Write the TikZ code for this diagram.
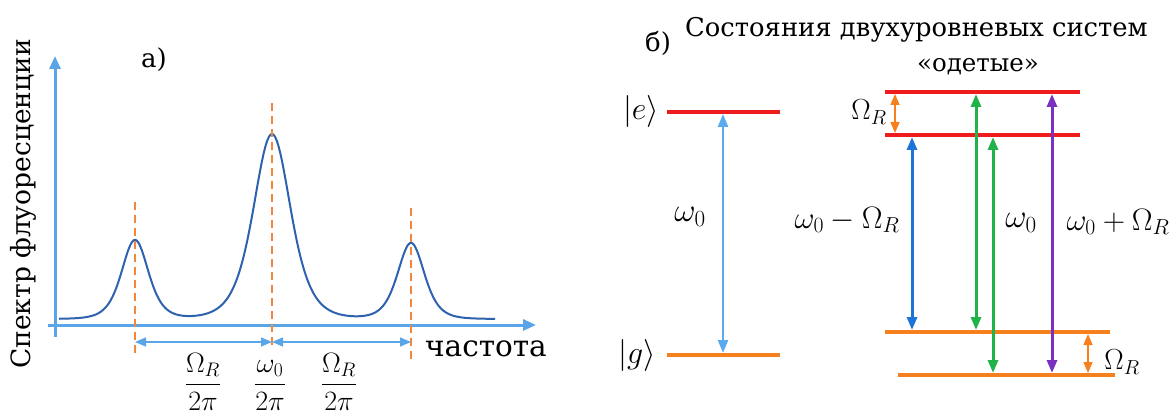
\documentclass[tikz,border=0pt]{standalone}
\usepackage{fix-cm}
\usepackage[no-math]{fontspec}
\setmainfont{DejaVu Serif}
\usetikzlibrary{arrows.meta}
\definecolor{axisblue}{HTML}{5AA5E8}
\definecolor{curveblue}{HTML}{2E62AE}
\definecolor{dashorange}{HTML}{F2863A}
\definecolor{lvlred}{HTML}{EE1C1C}
\definecolor{lvlorange}{HTML}{F7801E}
\definecolor{arrlight}{HTML}{5AAAEE}
\definecolor{arrdark}{HTML}{1B74D6}
\definecolor{arrgreen}{HTML}{22B24A}
\definecolor{arrpurple}{HTML}{7A30C0}
\tikzset{
  txt/.style={inner sep=0pt, font=\fontsize{#1}{#1}\selectfont},
  axisline/.style={axisblue, line width=3pt, -{Triangle[length=13pt,width=11pt]}},
  curveline/.style={curveblue, line width=2pt},
  dashline/.style={dashorange, line width=2pt, dash pattern=on 8pt off 5pt},
  spanarrow/.style={axisblue, line width=1.5pt, {Triangle[length=11pt,width=9pt]}-{Triangle[length=11pt,width=9pt]}},
  level/.style={line width=3.5pt},
  trans/.style={line width=3pt, {Triangle[length=13pt,width=10pt]}-{Triangle[length=13pt,width=10pt]}},
  small/.style={lvlorange, line width=1.5pt, {Triangle[length=11pt,width=9pt]}-{Triangle[length=11pt,width=9pt]}}
}
\begin{document}
\begin{tikzpicture}[x=1pt,y=-1pt]
\useasboundingbox (0,0) rectangle (1174,419);
% ---------- panel a ----------
\coordinate (yB) at (55,337);
\coordinate (yT) at (55,56);
\coordinate (xL) at (48,325);
\coordinate (xR) at (536,325);
\draw[axisline] (yB) -- (yT);
\draw[axisline] (xL) -- (xR);
\draw[curveline] plot[domain=59:495, samples=400, smooth] (\x, {325 - (6 + 79*(1/(1+((\x-135)/31)^2))^3 + 185*(1/(1+((\x-272)/43)^2))^3 + 76*(1/(1+((\x-411)/31)^2))^3)});
\coordinate (d1t) at (135,202); \coordinate (d1b) at (135,354);
\coordinate (d2t) at (272,103); \coordinate (d2b) at (272,345);
\coordinate (d3t) at (411,208); \coordinate (d3b) at (411,360);
\draw[dashline] (d1t) -- (d1b);
\draw[dashline] (d2t) -- (d2b);
\draw[dashline] (d3t) -- (d3b);
\coordinate (s1) at (135,342); \coordinate (s2) at (272,342); \coordinate (s3) at (411,342);
\draw[spanarrow] (s1) -- (s2);
\draw[spanarrow] (s2) -- (s3);
\node[txt=26] (la) at (154,60) {а)};
\node[txt=26.5, rotate=90] (ylab) at (23,204) {Спектр флуоресценции};
\node[txt=29.5, anchor=base west] (xlab) at (425,356) {частота};
\node[txt=28, anchor=base] (f1) at (203,391) {$\displaystyle\frac{\Omega_R}{2\pi}$};
\node[txt=28, anchor=base] (f2) at (270,391) {$\displaystyle\frac{\omega_0}{2\pi}$};
\node[txt=28, anchor=base] (f3) at (339,391) {$\displaystyle\frac{\Omega_R}{2\pi}$};
% ---------- panel b ----------
\node[txt=26] (lb) at (658,43) {б)};
\node[txt=25.8, anchor=base west] (title) at (685,37) {Состояния двухуровневых систем};
\node[txt=24.5, anchor=base] (dressed) at (978,72) {«одетые»};
% bare levels
\coordinate (eL) at (667,112); \coordinate (eR) at (780,112);
\coordinate (gL) at (667,355); \coordinate (gR) at (780,355);
\draw[level, lvlred] (eL) -- (eR);
\draw[level, lvlorange] (gL) -- (gR);
\node[txt=32] (ket e) at (641,112) {$|e\rangle$};
\node[txt=32] (ket g) at (637,355) {$|g\rangle$};
\coordinate (a0t) at (723,114); \coordinate (a0b) at (723,353);
\draw[trans, arrlight, line width=2.5pt] (a0t) -- (a0b);
\node[txt=33] (w0a) at (690,217) {$\omega_0$};
% dressed levels
\coordinate (e1L) at (885,92);  \coordinate (e1R) at (1080,92);
\coordinate (e2L) at (885,135); \coordinate (e2R) at (1080,135);
\coordinate (g1L) at (885,332); \coordinate (g1R) at (1110,332);
\coordinate (g2L) at (898,375); \coordinate (g2R) at (1115,375);
\draw[level, lvlred] (e1L) -- (e1R);
\draw[level, lvlred] (e2L) -- (e2R);
\draw[level, lvlorange] (g1L) -- (g1R);
\draw[level, lvlorange] (g2L) -- (g2R);
% transitions
\coordinate (oTt) at (895,94);   \coordinate (oTb) at (895,133);
\draw[small] (oTt) -- (oTb);
\coordinate (bt) at (912,137);   \coordinate (bb) at (912,330);
\draw[trans, arrdark] (bt) -- (bb);
\coordinate (g1t) at (976,94);   \coordinate (g1b) at (976,330);
\draw[trans, arrgreen] (g1t) -- (g1b);
\coordinate (g2t) at (993,137);  \coordinate (g2b) at (993,373);
\draw[trans, arrgreen] (g2t) -- (g2b);
\coordinate (pt) at (1052,94);   \coordinate (pb) at (1052,373);
\draw[trans, arrpurple] (pt) -- (pb);
\coordinate (oBt) at (1088,334); \coordinate (oBb) at (1088,373);
\draw[small] (oBt) -- (oBb);
% labels
\node[txt=29] (OmU) at (869,112) {$\Omega_R$};
\node[txt=29] (OmL) at (1122,362) {$\Omega_R$};
\node[txt=31] (wm) at (847,220) {$\omega_0-\Omega_R$};
\node[txt=33] (w0b) at (1021,223) {$\omega_0$};
\node[txt=31] (wp) at (1118,222) {$\omega_0+\Omega_R$};
\end{tikzpicture}
\end{document}
